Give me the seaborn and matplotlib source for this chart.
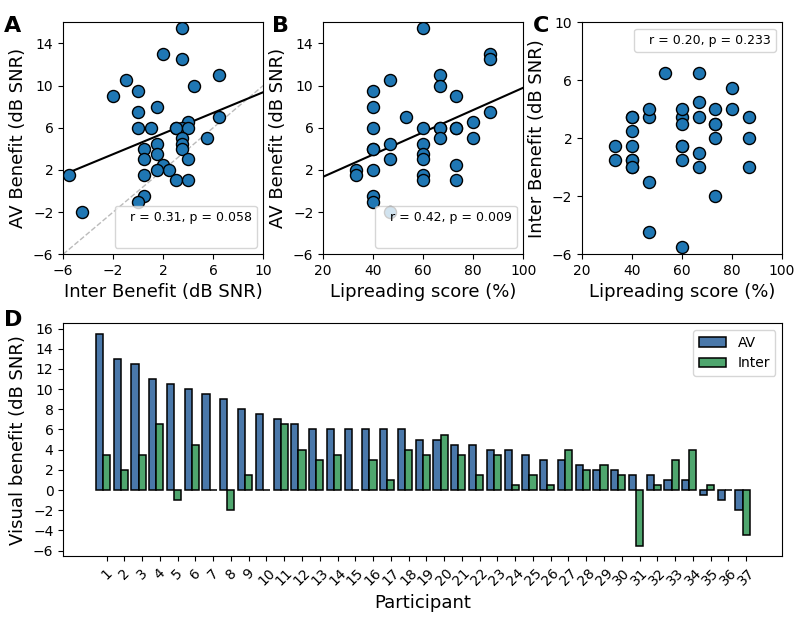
import matplotlib as mpl
mpl.rcParams['font.family'] = 'DejaVu Sans'
import matplotlib.pyplot as plt
from matplotlib.lines import Line2D
import numpy as np
import pandas as pd
import seaborn as sns

# per participant, sorted by AV benefit (panel D order)
participant = list(range(1, 38))
av_benefit = [15.5, 13, 12.5, 11, 10.5, 10, 9.5, 9, 8, 7.5, 7, 6.5, 6, 6, 6, 6, 6, 6, 5, 5,
              4.5, 4.5, 4, 4, 3.5, 3, 3, 2.5, 2, 2, 1.5, 1.5, 1, 1, -0.5, -1, -2]
inter_benefit = [3.5, 2, 3.5, 6.5, -1, 4.5, 0, -2, 1.5, 0, 6.5, 4, 3, 3.5, 0, 3, 1, 4, 3.5, 5.5,
                 3.5, 1.5, 3.5, 0.5, 1.5, 0.5, 4, 2, 2.5, 1.5, -5.5, 0.5, 3, 4, 0.5, 0, -4.5]
lipreading = [60, 86.7, 86.7, 66.7, 46.7, 66.7, 40, 73.3, 40, 86.7, 53.3, 80, 60, 40, 66.7, 73.3, 66.7, 73.3, 66.7, 80,
              46.7, 60, 40, 40, 60, 60, 46.7, 73.3, 40, 33.3, 60, 33.3, 73.3, 60, 40, 40, 46.7]

stats_A = 'r = 0.31, p = 0.058'
stats_B = 'r = 0.42, p = 0.009'
stats_C = 'r = 0.20, p = 0.233'

df = pd.DataFrame({'participant': participant, 'AV': av_benefit,
                   'Inter': inter_benefit, 'lipread': lipreading})

pt_color = '#1f77b4'
av_color = '#4a78aa'
inter_color = '#4fa66e'
lab_fs = 13
tick_fs = 10

fig = plt.figure(figsize=(8, 6.2), dpi=100)
axA = fig.add_axes([0.079, 0.590, 0.25, 0.374])
axB = fig.add_axes([0.404, 0.590, 0.25, 0.374])
axC = fig.add_axes([0.7275, 0.590, 0.25, 0.374])
axD = fig.add_axes([0.079, 0.103, 0.899, 0.376])


def fit_line(ax, x, y, xlim):
    slope, icpt = np.polyfit(x, y, 1)
    xs = np.array(xlim)
    ax.plot(xs, slope * xs + icpt, color='black', lw=1.5, zorder=2)


def stats_box(ax, txt, loc, rows):
    hs = [Line2D([], [], linestyle='none') for _ in range(rows)]
    labs = [txt] + [' '] * (rows - 1)
    ax.legend(hs, labs, loc=loc, handlelength=0, fontsize=9)


def scatter(ax, x, y):
    sns.scatterplot(data=df, x=x, y=y, ax=ax, s=75, color=pt_color,
                    edgecolor='black', linewidth=1, zorder=3)


# A
axA.plot([-6, 10], [-6, 10], ls='--', color='#bbbbbb', lw=1, zorder=1)
fit_line(axA, df['Inter'], df['AV'], (-6, 10))
scatter(axA, 'Inter', 'AV')
axA.set_xlim(-6, 10)
axA.set_ylim(-6, 16)
axA.set_xticks([-6, -2, 2, 6, 10])
axA.set_yticks([-6, -2, 2, 6, 10, 14])
axA.set_xlabel('Inter Benefit (dB SNR)', fontsize=lab_fs)
axA.set_ylabel('AV Benefit (dB SNR)', fontsize=lab_fs)
stats_box(axA, stats_A, 'lower right', 2)

# B
fit_line(axB, df['lipread'], df['AV'], (20, 100))
scatter(axB, 'lipread', 'AV')
axB.set_xlim(20, 100)
axB.set_ylim(-6, 16)
axB.set_xticks([20, 40, 60, 80, 100])
axB.set_yticks([-6, -2, 2, 6, 10, 14])
axB.set_xlabel('Lipreading score (%)', fontsize=lab_fs)
axB.set_ylabel('AV Benefit (dB SNR)', fontsize=lab_fs)
stats_box(axB, stats_B, 'lower right', 2)

# C
scatter(axC, 'lipread', 'Inter')
axC.set_xlim(20, 100)
axC.set_ylim(-6, 10)
axC.set_xticks([20, 40, 60, 80, 100])
axC.set_yticks([-6, -2, 2, 6, 10])
axC.set_xlabel('Lipreading score (%)', fontsize=lab_fs)
axC.set_ylabel('Inter Benefit (dB SNR)', fontsize=lab_fs)
stats_box(axC, stats_C, 'upper right', 1)

for ax in (axA, axB, axC):
    ax.tick_params(labelsize=tick_fs)

# D
long_df = df.melt(id_vars='participant', value_vars=['AV', 'Inter'],
                  var_name='cond', value_name='benefit')
sns.barplot(data=long_df, x='participant', y='benefit', hue='cond',
            palette=[av_color, inter_color], saturation=1,
            edgecolor='black', linewidth=1.1,
            errorbar=None, width=0.8, ax=axD)
n = len(participant)
axD.set_xticks(np.arange(n) + 0.2)
axD.set_xticklabels([str(p) for p in participant], rotation=45, fontsize=10)
axD.set_xlim(-0.4 - 0.05 * (n - 0.2), n - 0.6 + 0.05 * (n - 0.2))
axD.set_ylim(-6.55, 16.55)
axD.set_yticks(range(-6, 17, 2))
axD.tick_params(axis='y', labelsize=tick_fs)
axD.set_xlabel('Participant', fontsize=lab_fs)
axD.set_ylabel('Visual benefit (dB SNR)', fontsize=lab_fs)
axD.legend(loc='upper right', fontsize=10)

for lab, x, y in [('A', 0.005, 0.975), ('B', 0.34, 0.975), ('C', 0.666, 0.975), ('D', 0.005, 0.5)]:
    fig.text(x, y, lab, fontsize=16, fontweight='bold', va='top')

fig.savefig('out.png', dpi=100)
